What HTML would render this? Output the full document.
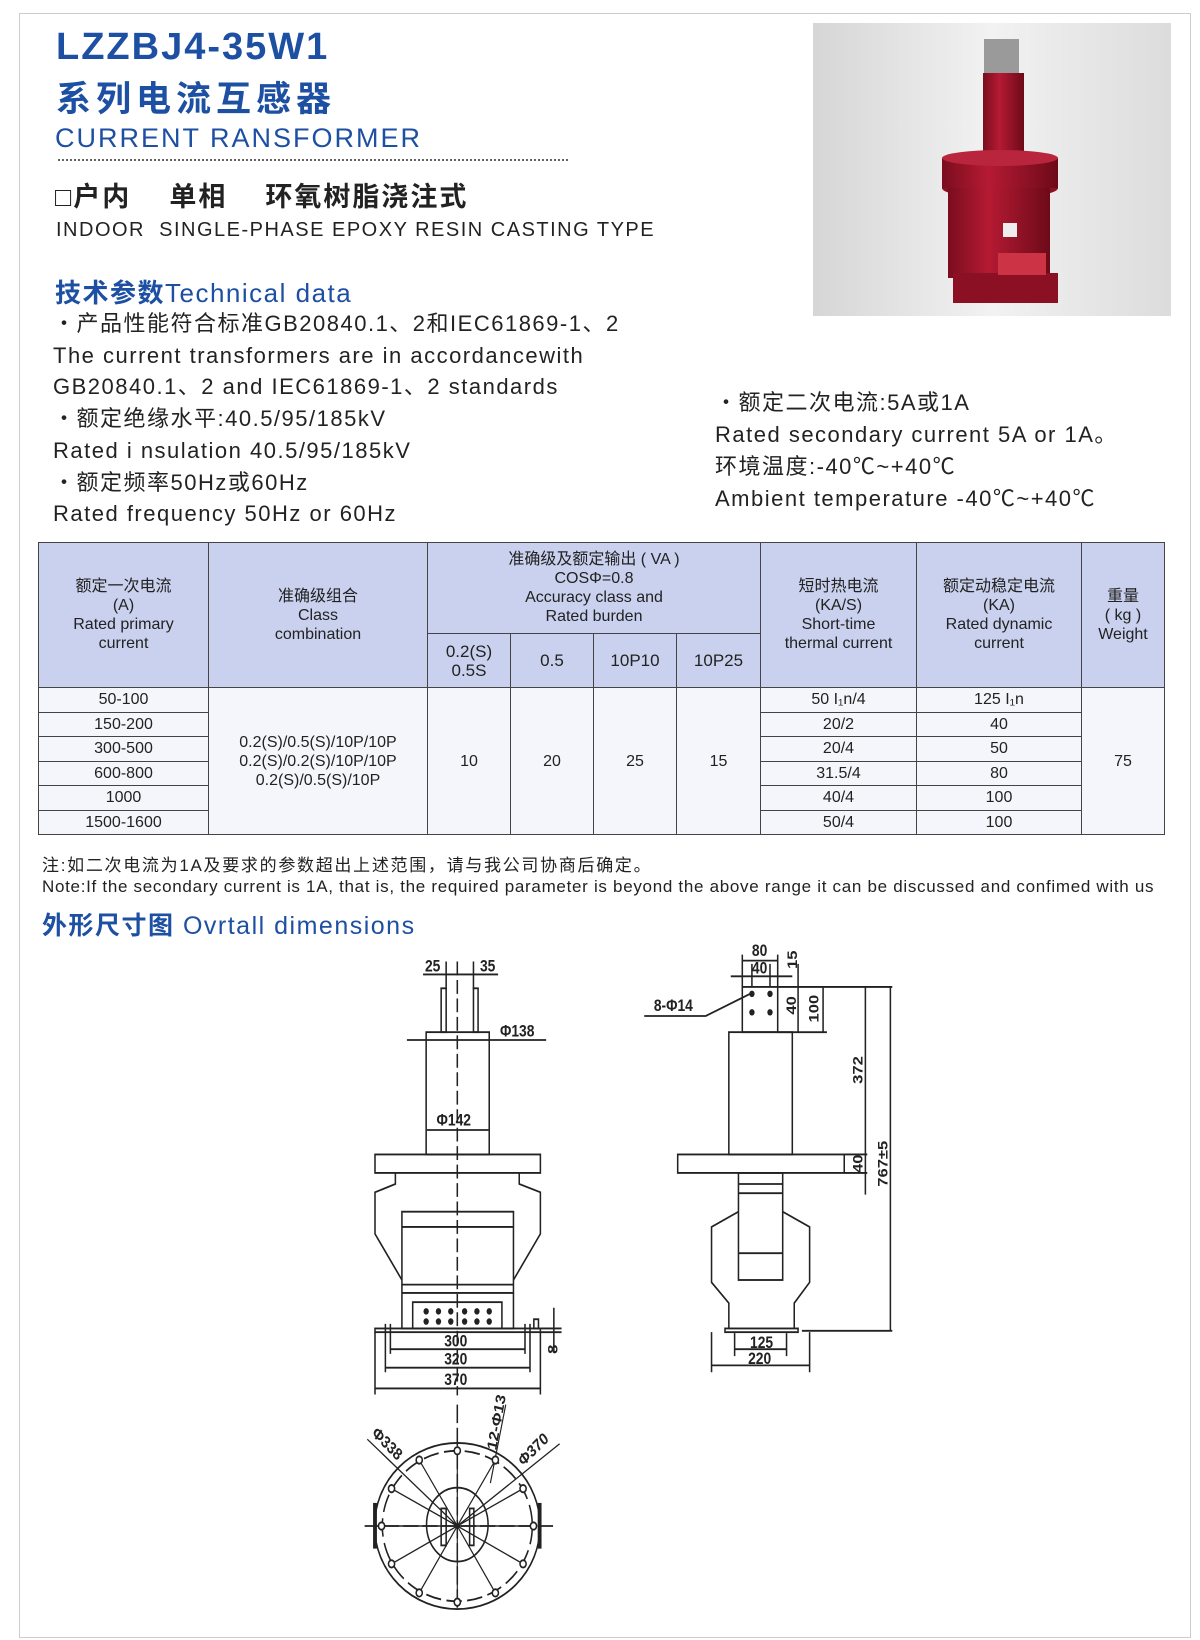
<!DOCTYPE html>
<html><head><meta charset="utf-8">
<style>
body{margin:0;background:#fff;}
#p{position:relative;width:1200px;height:1640px;overflow:hidden;font-family:"Liberation Sans","Noto Sans CJK SC",sans-serif;color:#222;}
.a{position:absolute;white-space:nowrap;}
.blue{color:#1d4fa3;}
table{position:absolute;left:38px;top:542px;width:1133px;border-collapse:collapse;font-size:16px;}
td{border:1.5px solid #444;text-align:center;line-height:19px;padding:0;}
.h{background:#c9d1ee;}
.d td{background:#f4f6fb;height:23.5px;}
</style></head><body><div id="p">
<div class="a" style="left:19px;top:13px;width:1170px;height:1623px;border:1px solid #ccc;"></div>
<div class="a blue" style="left:56px;top:26px;font-size:38px;font-weight:bold;letter-spacing:2px;">LZZBJ4-35W1</div>
<div class="a blue" style="left:56px;top:71px;font-size:35px;font-weight:bold;letter-spacing:5px;">系列电流互感器</div>
<div class="a blue" style="left:55px;top:123px;font-size:27px;letter-spacing:2px;">CURRENT RANSFORMER</div>
<div class="a" style="left:58px;top:159px;width:510px;border-top:2px dotted #666;"></div>
<div class="a" style="left:55px;top:175px;font-size:27px;font-weight:bold;letter-spacing:2px;">□户内&nbsp;&nbsp;&nbsp;&nbsp;单相&nbsp;&nbsp;&nbsp;&nbsp;环氧树脂浇注式</div>
<div class="a" style="left:56px;top:219px;font-size:20px;letter-spacing:1.5px;">INDOOR&nbsp; SINGLE-PHASE EPOXY RESIN CASTING TYPE</div>
<div class="a blue" style="left:55px;top:273px;font-size:26px;letter-spacing:1.5px;"><b>技术参数</b>Technical data</div>
<div class="a" style="left:53px;top:308px;font-size:22px;line-height:31.7px;letter-spacing:1.5px;">・产品性能符合标准GB20840.1、2和IEC61869-1、2<br>The current transformers are in accordancewith<br>GB20840.1、2 and IEC61869-1、2 standards<br>・额定绝缘水平:40.5/95/185kV<br>Rated i nsulation 40.5/95/185kV<br>・额定频率50Hz或60Hz<br>Rated frequency 50Hz or 60Hz</div>
<div class="a" style="left:715px;top:387px;font-size:22px;line-height:32px;letter-spacing:1.5px;">・额定二次电流:5A或1A<br>Rated secondary current 5A or 1A。<br>环境温度:-40℃~+40℃<br>Ambient temperature -40℃~+40℃</div>
<svg class="a" style="left:813px;top:23px" width="358" height="293">
<defs><linearGradient id="bg" x1="0" x2="1"><stop offset="0" stop-color="#d6d6d6"/><stop offset="0.5" stop-color="#f2f2f2"/><stop offset="1" stop-color="#dcdcdc"/></linearGradient>
<linearGradient id="rd" x1="0" x2="1"><stop offset="0" stop-color="#7a0d1e"/><stop offset="0.4" stop-color="#b51a33"/><stop offset="1" stop-color="#6d0a18"/></linearGradient></defs>
<rect width="358" height="293" fill="url(#bg)"/>
<rect x="171" y="16" width="35" height="36" fill="#9a9a9a"/>
<rect x="170" y="50" width="41" height="90" fill="url(#rd)"/>
<ellipse cx="187" cy="165" rx="58" ry="10" fill="#8c1024"/>
<rect x="129" y="135" width="116" height="30" fill="url(#rd)"/>
<ellipse cx="187" cy="135" rx="58" ry="8" fill="#b8253c"/>
<rect x="135" y="165" width="102" height="90" fill="url(#rd)"/>
<rect x="190" y="200" width="14" height="14" fill="#eee"/>
<rect x="140" y="250" width="105" height="30" fill="#8c1024"/>
<rect x="185" y="230" width="48" height="22" fill="#c34" />
</svg>
<table style="width:1127px">
<tr class="h" style="height:91px"><td rowspan="2" style="width:169px">额定一次电流<br>(A)<br>Rated primary<br>current</td><td rowspan="2" style="width:218px">准确级组合<br>Class<br>combination</td><td colspan="4">准确级及额定输出 ( VA )<br>COSΦ=0.8<br>Accuracy class and<br>Rated burden</td><td rowspan="2" style="width:155px">短时热电流<br>(KA/S)<br>Short-time<br>thermal current</td><td rowspan="2" style="width:164px">额定动稳定电流<br>(KA)<br>Rated dynamic<br>current</td><td rowspan="2">重量<br>( kg )<br>Weight</td></tr>
<tr class="h" style="height:54px"><td style="width:82px;font-size:17px">0.2(S)<br>0.5S</td><td style="width:82px;font-size:17px">0.5</td><td style="width:82px;font-size:17px">10P10</td><td style="width:83px;font-size:17px">10P25</td></tr>
<tr class="d"><td>50-100</td><td rowspan="6">0.2(S)/0.5(S)/10P/10P<br>0.2(S)/0.2(S)/10P/10P<br>0.2(S)/0.5(S)/10P</td><td rowspan="6">10</td><td rowspan="6">20</td><td rowspan="6">25</td><td rowspan="6">15</td><td>50 I₁n/4</td><td>125 I₁n</td><td rowspan="6">75</td></tr>
<tr class="d"><td>150-200</td><td>20/2</td><td>40</td></tr>
<tr class="d"><td>300-500</td><td>20/4</td><td>50</td></tr>
<tr class="d"><td>600-800</td><td>31.5/4</td><td>80</td></tr>
<tr class="d"><td>1000</td><td>40/4</td><td>100</td></tr>
<tr class="d"><td>1500-1600</td><td>50/4</td><td>100</td></tr>
</table>
<div class="a" style="left:42px;top:851px;font-size:17px;letter-spacing:1.7px;">注:如二次电流为1A及要求的参数超出上述范围，请与我公司协商后确定。</div>
<div class="a" style="left:42px;top:877px;font-size:17px;letter-spacing:0.7px;">Note:If the secondary current is 1A, that is, the required parameter is beyond the above range it can be discussed and confimed with us</div>
<div class="a blue" style="left:42px;top:906px;font-size:25px;letter-spacing:1.5px;"><b>外形尺寸图</b> Ovrtall dimensions</div>
<svg class="a" style="left:350px;top:920px" width="600" height="720" viewBox="0 0 1560 1560" preserveAspectRatio="none" fill="none" stroke="#222" stroke-width="4" font-family="Liberation Sans" font-weight="bold" font-size="36">
<g fill="#222" stroke="none">
<text x="195" y="112">25</text><text x="338" y="112">35</text>
<text x="390" y="252">Φ138</text><text x="225" y="445">Φ142</text>
<text x="245" y="924">300</text><text x="245" y="963">320</text><text x="245" y="1007">370</text>
<text x="1045" y="78">80</text><text x="1045" y="116">40</text>
<text x="790" y="197">8-Φ14</text>
<text x="1040" y="927">125</text><text x="1035" y="962">220</text>
<text transform="translate(1162,106) rotate(-90)">15</text>
<text transform="translate(1160,205) rotate(-90)">40</text>
<text transform="translate(1218,222) rotate(-90)">100</text>
<text transform="translate(1332,355) rotate(-90)">372</text>
<text transform="translate(1332,548) rotate(-90)">40</text>
<text transform="translate(1397,578) rotate(-90)">767±5</text>
<text transform="translate(540,940) rotate(-90)">8</text>
<text transform="translate(55,1115) rotate(40)">Φ338</text>
<text transform="translate(380,1150) rotate(-78)">12-Φ13</text>
<text transform="translate(450,1185) rotate(-40)">Φ370</text>
</g>
<path d="M279 90V1030" stroke-dasharray="30 10"/>
<rect x="237" y="148" width="13" height="95"/><rect x="321" y="148" width="12" height="95"/>
<path d="M250 90V150M321 90V150M190 118H385M148 260H510"/>
<rect x="198" y="243" width="164" height="265"/>
<path d="M200 455H360"/>
<rect x="65" y="508" width="430" height="40"/>
<path d="M118 548V572L65 590V680L135 780M440 548V572L495 590V680L425 780"/>
<rect x="135" y="632" width="290" height="253"/>
<path d="M135 665H425M135 790H425M135 808H425"/>
<rect x="163" y="828" width="232" height="57"/>
<g fill="#222" stroke="none">
<circle cx="198" cy="848" r="7"/><circle cx="230" cy="848" r="7"/><circle cx="262" cy="848" r="7"/><circle cx="298" cy="848" r="7"/><circle cx="330" cy="848" r="7"/><circle cx="362" cy="848" r="7"/>
<circle cx="198" cy="870" r="7"/><circle cx="230" cy="870" r="7"/><circle cx="262" cy="870" r="7"/><circle cx="298" cy="870" r="7"/><circle cx="330" cy="870" r="7"/><circle cx="362" cy="870" r="7"/>
</g>
<rect x="65" y="885" width="430" height="8"/>
<rect x="478" y="865" width="12" height="20"/>
<path d="M105 875V940M455 875V940M92 875V980M468 875V980M65 893V1028M495 893V1028M105 930H455M92 970H468M65 1015H495M495 885H550M495 893H550M530 840V935"/>
<ellipse cx="279" cy="1313" rx="215" ry="180"/>
<ellipse cx="279" cy="1313" rx="195" ry="163" stroke-dasharray="40 14"/>
<ellipse cx="279" cy="1310" rx="80" ry="80"/>
<rect x="237" y="1275" width="13" height="80"/><rect x="311" y="1275" width="11" height="80"/>
<path d="M38 1313H530M279 1050V1500" stroke-dasharray="40 10"/>
<rect x="62" y="1265" width="6" height="95" fill="#222"/><rect x="490" y="1265" width="6" height="95" fill="#222"/>
<g stroke-width="3">
<path d="M279 1313L279 1150M279 1313L378 1170M279 1313L450 1232M279 1313L477 1313M279 1313L450 1395M279 1313L378 1458M279 1313L279 1478M279 1313L180 1458M279 1313L108 1395M279 1313L82 1313M279 1313L108 1232M279 1313L180 1170M45 1125L279 1313M545 1135L279 1313M405 1050L365 1220"/>
</g>
<g fill="#fff">
<circle cx="279" cy="1150" r="8"/><circle cx="378" cy="1170" r="8"/><circle cx="450" cy="1232" r="8"/><circle cx="477" cy="1313" r="8"/><circle cx="450" cy="1395" r="8"/><circle cx="378" cy="1458" r="8"/><circle cx="279" cy="1478" r="8"/><circle cx="180" cy="1458" r="8"/><circle cx="108" cy="1395" r="8"/><circle cx="82" cy="1313" r="8"/><circle cx="108" cy="1232" r="8"/><circle cx="180" cy="1170" r="8"/>
</g>
<rect x="1020" y="145" width="92" height="98"/>
<g fill="#222" stroke="none"><circle cx="1045" cy="160" r="7"/><circle cx="1092" cy="160" r="7"/><circle cx="1045" cy="200" r="7"/><circle cx="1092" cy="200" r="7"/></g>
<rect x="985" y="243" width="165" height="265"/>
<rect x="852" y="508" width="433" height="40"/>
<rect x="1010" y="548" width="115" height="232"/>
<path d="M1010 572H1125M1010 592H1125M1010 722H1125"/>
<path d="M1010 632L940 665V785L985 830V885M1125 632L1195 665V785L1155 830V885"/>
<rect x="975" y="885" width="190" height="8"/>
<path d="M1020 75V145M1112 75V145M1045 95V145M1092 95V145M1020 88H1112M990 122H1150M765 208H925L1040 160M1165 95V243M1230 145V243M1112 145H1410M1112 243H1240M1340 145V595M1405 145V890M1175 890H1410M1285 508H1345M1285 548H1345M1000 895V945M1135 895V945M940 893V980M1195 893V980M1000 930H1135M940 965H1195"/>
</svg>
</div></body></html>
